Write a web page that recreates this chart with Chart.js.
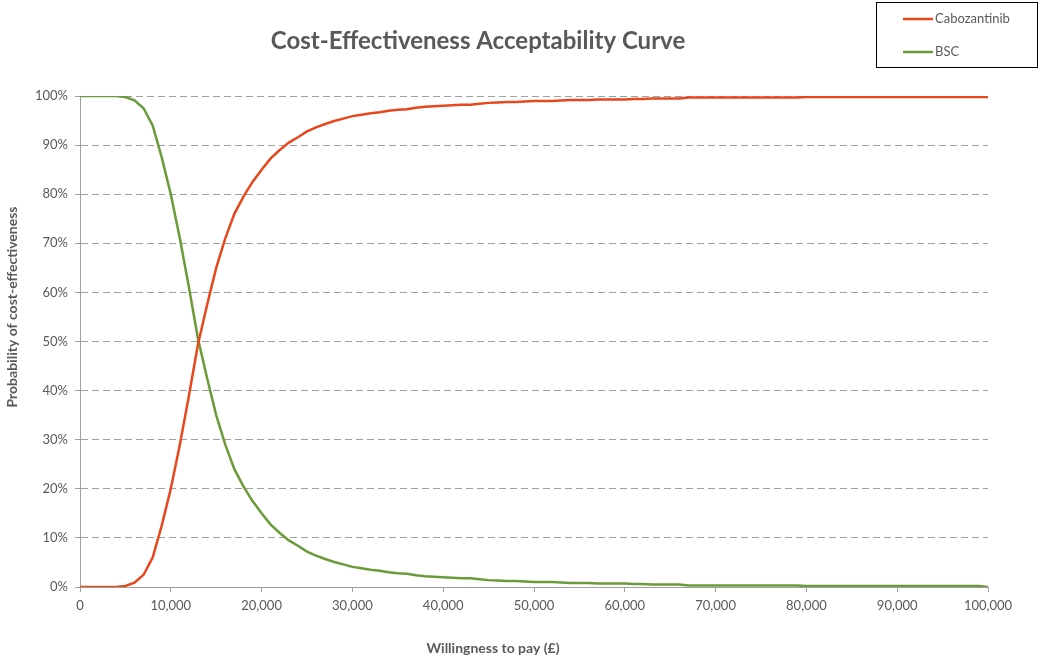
<!DOCTYPE html>
<html>
<head>
<meta charset="utf-8">
<title>Cost-Effectiveness Acceptability Curve</title>
<script src="https://cdn.jsdelivr.net/npm/chart.js@4/dist/chart.umd.min.js"></script>
<style>
  html, body { margin: 0; padding: 0; background: #ffffff; }
  #wrap { position: relative; width: 1041px; height: 657px; }
</style>
</head>
<body>
<div id="wrap"><canvas id="ceac" width="1041" height="657"></canvas></div>
<script>
// Willingness-to-pay thresholds (£)
const wtp = [
  0, 1000, 2000, 3000, 4000, 5000, 6000, 7000, 8000, 9000,
  10000, 11000, 12000, 13000, 14000, 15000, 16000, 17000, 18000, 19000,
  20000, 21000, 22000, 23000, 24000, 25000, 26000, 27000, 28000, 29000,
  30000, 31000, 32000, 33000, 34000, 35000, 36000, 37000, 38000, 39000,
  40000, 41000, 42000, 43000, 44000, 45000, 46000, 47000, 48000, 49000,
  50000, 51000, 52000, 53000, 54000, 55000, 56000, 57000, 58000, 59000,
  60000, 61000, 62000, 63000, 64000, 65000, 66000, 67000, 68000, 69000,
  70000, 71000, 72000, 73000, 74000, 75000, 76000, 77000, 78000, 79000,
  80000, 81000, 82000, 83000, 84000, 85000, 86000, 87000, 88000, 89000,
  90000, 91000, 92000, 93000, 94000, 95000, 96000, 97000, 98000, 99000,
  100000
];

// Probability (%) that each option is cost-effective at each threshold
const cabozantinib = [
  0, 0, 0, 0, 0, 0.2, 0.9, 2.5, 6.0, 12.5,
  20.0, 29.0, 39.0, 49.5, 57.5, 65.0, 71.0, 76.0, 79.5, 82.5,
  85.0, 87.3, 89.0, 90.5, 91.6, 92.8, 93.6, 94.3, 94.9, 95.4,
  95.9, 96.2, 96.5, 96.7, 97.0, 97.2, 97.3, 97.6, 97.8, 97.9,
  98.0, 98.1, 98.2, 98.2, 98.4, 98.6, 98.7, 98.8, 98.8, 98.9,
  99.0, 99.0, 99.0, 99.1, 99.2, 99.2, 99.2, 99.3, 99.3, 99.3,
  99.3, 99.4, 99.4, 99.5, 99.5, 99.5, 99.5, 99.7, 99.7, 99.7,
  99.7, 99.7, 99.7, 99.7, 99.7, 99.7, 99.7, 99.7, 99.7, 99.7,
  99.8, 99.8, 99.8, 99.8, 99.8, 99.8, 99.8, 99.8, 99.8, 99.8,
  99.8, 99.8, 99.8, 99.8, 99.8, 99.8, 99.8, 99.8, 99.8, 99.8,
  99.8
];
const bsc = [
  100, 100, 100, 100, 100, 99.8, 99.1, 97.5, 94.0, 87.5,
  80.0, 71.0, 61.0, 50.5, 42.5, 35.0, 29.0, 24.0, 20.5, 17.5,
  15.0, 12.7, 11.0, 9.5, 8.4, 7.2, 6.4, 5.7, 5.1, 4.6,
  4.1, 3.8, 3.5, 3.3, 3.0, 2.8, 2.7, 2.4, 2.2, 2.1,
  2.0, 1.9, 1.8, 1.8, 1.6, 1.4, 1.3, 1.2, 1.2, 1.1,
  1.0, 1.0, 1.0, 0.9, 0.8, 0.8, 0.8, 0.7, 0.7, 0.7,
  0.7, 0.6, 0.6, 0.5, 0.5, 0.5, 0.5, 0.3, 0.3, 0.3,
  0.3, 0.3, 0.3, 0.3, 0.3, 0.3, 0.3, 0.3, 0.3, 0.3,
  0.2, 0.2, 0.2, 0.2, 0.2, 0.2, 0.2, 0.2, 0.2, 0.2,
  0.2, 0.2, 0.2, 0.2, 0.2, 0.2, 0.2, 0.2, 0.2, 0.2,
  0.0
];

const seriesNames = ['Cabozantinib', 'BSC'];
const seriesColors = ['#E8471C', '#6B9A38'];

const chartTitle = 'Cost-Effectiveness Acceptability Curve';
const xTitle = 'Willingness to pay (£)';
const yTitle = 'Probability of cost-effectiveness';

const textColor = '#595959';
const gridColor = '#a0a0a0';
const fontFamily = 'Lato, "Open Sans", sans-serif';

// Title, axis titles and the boxed legend drawn on top of the chart
const decorations = {
  id: 'decorations',
  afterDraw(chart) {
    const ctx = chart.ctx;
    ctx.save();
    ctx.fillStyle = textColor;
    ctx.textBaseline = 'alphabetic';

    ctx.font = 'bold 24px ' + fontFamily;
    ctx.textAlign = 'center';
    ctx.fillText(chartTitle, 478, 49);

    ctx.font = 'bold 14px ' + fontFamily;
    ctx.fillText(xTitle, 493, 653);

    ctx.save();
    ctx.translate(17, 307);
    ctx.rotate(-Math.PI / 2);
    ctx.fillText(yTitle, 0, 0);
    ctx.restore();

    // legend box
    ctx.strokeStyle = '#000000';
    ctx.lineWidth = 1;
    ctx.strokeRect(876.5, 2.5, 161, 65);
    ctx.font = '13px ' + fontFamily;
    ctx.textAlign = 'left';
    ctx.textBaseline = 'middle';
    chart.data.datasets.forEach((ds, i) => {
      const y = 19 + i * 33;
      ctx.strokeStyle = ds.borderColor;
      ctx.lineWidth = 2.5;
      ctx.beginPath();
      ctx.moveTo(903, y);
      ctx.lineTo(933, y);
      ctx.stroke();
      ctx.fillStyle = textColor;
      ctx.fillText(ds.label, 935, y);
    });
    ctx.restore();
  }
};

const datasets = seriesNames.map((name, i) => ({
  label: name,
  data: wtp.map((x, j) => ({ x: x, y: (i === 0 ? cabozantinib : bsc)[j] })),
  borderColor: seriesColors[i],
  backgroundColor: seriesColors[i],
  borderWidth: 2.5,
  pointRadius: 0,
  tension: 0,
  fill: false
}));

new Chart(document.getElementById('ceac'), {
  type: 'line',
  data: { datasets: datasets },
  options: {
    responsive: false,
    animation: false,
    layout: { padding: { top: 96, right: 53, bottom: 0, left: 0 } },
    plugins: {
      legend: { display: false },
      title: { display: false },
      tooltip: { enabled: false }
    },
    scales: {
      x: {
        type: 'linear',
        min: 0,
        max: 100000,
        ticks: {
          stepSize: 10000,
          autoSkip: false,
          maxRotation: 0,
          padding: 6,
          color: textColor,
          font: { family: fontFamily, size: 13 },
          callback: v => v.toLocaleString('en-US')
        },
        grid: { drawOnChartArea: false, drawTicks: true, tickLength: 5, color: gridColor },
        border: { color: gridColor, width: 1 },
        afterFit: s => { s.height = 70; }
      },
      y: {
        min: 0,
        max: 100,
        ticks: {
          stepSize: 10,
          padding: 7,
          color: textColor,
          font: { family: fontFamily, size: 13 },
          callback: v => v + '%'
        },
        grid: { color: gridColor, lineWidth: 1, tickLength: 5 },
        border: { color: gridColor, width: 1, dash: [7, 4] },
        afterFit: s => { s.width = 80; }
      }
    }
  },
  plugins: [decorations]
});
</script>
</body>
</html>
